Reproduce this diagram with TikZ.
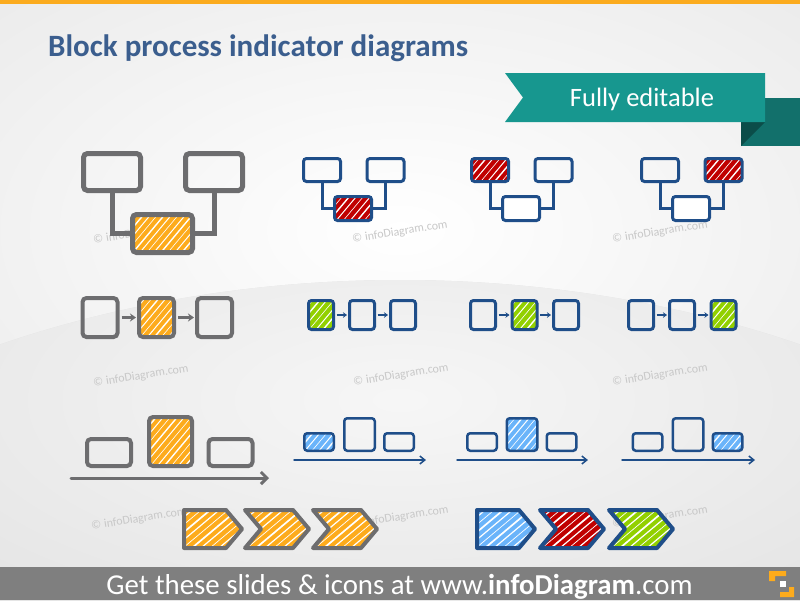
\documentclass[tikz,border=0pt]{standalone}
\usepackage{fontspec}
\usepackage{graphicx}
\setmainfont{Carlito}
\usetikzlibrary{calc,arrows.meta}
\definecolor{gstroke}{HTML}{6D6D6F}
\definecolor{bstroke}{HTML}{1F4E89}
\definecolor{orng}{HTML}{FDAB1C}
\definecolor{redf}{HTML}{C00000}
\definecolor{grnf}{HTML}{92D000}
\definecolor{bluef}{HTML}{6AB4FA}
\definecolor{titlec}{HTML}{3B5E8E}
\definecolor{tealc}{HTML}{17978F}
\definecolor{tealdark}{HTML}{12706B}
\definecolor{tealdeep}{HTML}{0B4D49}
\definecolor{footc}{HTML}{7F7F7F}
\definecolor{wmark}{HTML}{C8C8C8}
\definecolor{bgc}{HTML}{E4E4E4}
\definecolor{bgd}{HTML}{E2E2E2}
\definecolor{topc}{HTML}{FBAB1E}
\begin{document}
\begin{tikzpicture}[x=1pt,y=-1pt,
  hatch/.style={fill=#1, path picture={
     \foreach \k [evaluate=\k as \w using {0.6+0.4*mod(abs(\k),3)}] in {-16,...,16}{
       \draw[white,line width=\w pt] ($(path picture bounding box.center)+(\k*7pt-50pt,-60pt)$) -- ++(50:160pt);}}},
  hatchc/.style={fill=#1, path picture={
     \foreach \k [evaluate=\k as \w using {0.7+0.5*mod(abs(\k),3)}] in {-14,...,14}{
       \draw[white,line width=\w pt] ($(path picture bounding box.center)+(\k*9pt-40pt,-50pt)$) -- ++(40:160pt);}}},
  gbig/.style={draw=gstroke, line width=5pt, rounded corners=4pt, inner sep=0pt},
  gmid/.style={draw=gstroke, line width=4pt, rounded corners=4pt, inner sep=0pt},
  bbox/.style={draw=bstroke, line width=3pt, rounded corners=3pt, inner sep=0pt},
  bthin/.style={draw=bstroke, line width=2.5pt, rounded corners=3pt, inner sep=0pt},
  gconn/.style={draw=gstroke, line width=5pt},
  bconn/.style={draw=bstroke, line width=3pt},
  garr/.style={draw=gstroke, line width=3pt, -{Stealth[length=6pt,width=8pt]}, shorten <=2pt, shorten >=1pt},
  barr/.style={draw=bstroke, line width=2pt, -{Stealth[length=4pt,width=5.5pt]}, shorten <=1.5pt, shorten >=1pt},
  glong/.style={draw=gstroke, line width=3pt, line cap=round, -{Straight Barb[length=6pt,width=12pt]}},
  blong/.style={draw=bstroke, line width=1.5pt, line cap=round, -{Straight Barb[length=5pt,width=8pt]}},
  gchev/.style={draw=gstroke, line width=4pt, line join=round},
  bchev/.style={draw=bstroke, line width=4pt, line join=round},
  wm/.style={text=wmark, rotate=9, inner sep=0pt, font=\fontsize{12}{12}\selectfont}
]
\useasboundingbox (0,0) rectangle (800,600);
% ---------- background ----------
\begin{scope}
  \clip (0,0) rectangle (800,600);
  \fill[bgc] (0,0) rectangle (800,600);
  \shade[inner color=white, outer color=bgc] (-400,-220) rectangle (1200,680);
  \begin{scope}
    \clip (400,900) ellipse [x radius=900, y radius=620];
    \fill[bgd] (0,0) rectangle (800,600);
    \shade[inner color=white!70!bgd, outer color=bgd] (-300,100) rectangle (1100,700);
  \end{scope}
\end{scope}
\fill[topc] (0,0) rectangle (800,4);
% ---------- title and banner ----------
\node[anchor=base west, inner sep=0pt, text=titlec] (title) at (48,56)
  {\resizebox{420pt}{!}{\bfseries Block process indicator diagrams}};
\fill[tealdark] (741,98) rectangle (800,146);
\fill[tealdeep] (741,122) -- (765,122) -- (741,146) -- cycle;
\fill[tealc] (505,73) -- (765,73) -- (765,122) -- (505,122) -- (523,97.5) -- cycle;
\node[anchor=base, inner sep=0pt, text=white] (fe) at (642,106)
  {\resizebox{144pt}{!}{Fully editable}};
% ---------- watermarks ----------
\node[wm] (w1) at (141,233) {© infoDiagram.com};
\node[wm] (w2) at (400,232) {© infoDiagram.com};
\node[wm] (w3) at (660,232) {© infoDiagram.com};
\node[wm] (w4) at (141,376) {© infoDiagram.com};
\node[wm] (w5) at (401,375) {© infoDiagram.com};
\node[wm] (w6) at (660,375) {© infoDiagram.com};
\node[wm] (w7) at (139,519) {© infoDiagram.com};
\node[wm] (w8) at (401,517) {© infoDiagram.com};
\node[wm] (w9) at (660,517) {© infoDiagram.com};
% ---------- row 1 : gray hierarchy ----------
\node[gbig, minimum width=57pt, minimum height=37pt] (ga) at (112,172) {};
\node[gbig, minimum width=57pt, minimum height=37pt] (gb) at (214,172) {};
\coordinate (gcc) at (162.5,233.5);
\draw[gconn] (ga.south) |- (gcc);
\draw[gconn] (gb.south) |- (gcc);
\node[gbig, hatch=orng, minimum width=60pt, minimum height=38pt] (gc) at (gcc) {};
% ---------- row 1 : blue hierarchies ----------
\foreach \n/\o in {p/0,q/168,r/338}{
  \coordinate (\n a) at (322+\o,170);
  \coordinate (\n b) at (385.5+\o,170);
  \coordinate (\n c) at (353+\o,208.5);
}
\node[bbox, minimum width=37pt, minimum height=23pt] (h1a) at (pa) {};
\node[bbox, minimum width=37pt, minimum height=23pt] (h1b) at (pb) {};
\draw[bconn] (h1a.south) |- (pc);
\draw[bconn] (h1b.south) |- (pc);
\node[bbox, hatch=redf, minimum width=37pt, minimum height=24pt] (h1c) at (pc) {};
\node[bbox, hatch=redf, minimum width=37pt, minimum height=23pt] (h2a) at (qa) {};
\node[bbox, minimum width=37pt, minimum height=23pt] (h2b) at (qb) {};
\draw[bconn] (h2a.south) |- (qc);
\draw[bconn] (h2b.south) |- (qc);
\node[bbox, fill=white, minimum width=37pt, minimum height=24pt] (h2c) at (qc) {};
\node[bbox, minimum width=37pt, minimum height=23pt] (h3a) at (ra) {};
\node[bbox, hatch=redf, minimum width=37pt, minimum height=23pt] (h3b) at (rb) {};
\draw[bconn] (h3a.south) |- (rc);
\draw[bconn] (h3b.south) |- (rc);
\node[bbox, fill=white, minimum width=37pt, minimum height=24pt] (h3c) at (rc) {};
% ---------- row 2 : gray flow ----------
\node[gmid, minimum width=35pt, minimum height=39pt] (fa) at (100,317.5) {};
\node[gmid, hatch=orng, minimum width=35pt, minimum height=39pt] (fb) at (156.5,317.5) {};
\node[gmid, minimum width=35pt, minimum height=39pt] (fc) at (214.5,317.5) {};
\draw[garr] (fa.east) -- (fb.west);
\draw[garr] (fb.east) -- (fc.west);
% ---------- row 2 : blue flows ----------
\node[bbox, hatch=grnf, minimum width=25pt, minimum height=29pt] (k1a) at (321,315) {};
\node[bbox, minimum width=25pt, minimum height=29pt] (k1b) at (362,315) {};
\node[bbox, minimum width=25pt, minimum height=29pt] (k1c) at (403,315) {};
\draw[barr] (k1a.east) -- (k1b.west);
\draw[barr] (k1b.east) -- (k1c.west);
\node[bbox, minimum width=25pt, minimum height=29pt] (k2a) at (483,315) {};
\node[bbox, hatch=grnf, minimum width=25pt, minimum height=29pt] (k2b) at (524.5,315) {};
\node[bbox, minimum width=25pt, minimum height=29pt] (k2c) at (566,315) {};
\draw[barr] (k2a.east) -- (k2b.west);
\draw[barr] (k2b.east) -- (k2c.west);
\node[bbox, minimum width=25pt, minimum height=29pt] (k3a) at (641,315) {};
\node[bbox, minimum width=25pt, minimum height=29pt] (k3b) at (682,315) {};
\node[bbox, hatch=grnf, minimum width=25pt, minimum height=29pt] (k3c) at (723.5,315) {};
\draw[barr] (k3a.east) -- (k3b.west);
\draw[barr] (k3b.east) -- (k3c.west);
% ---------- row 3 : gray steps ----------
\node[gmid, minimum width=44pt, minimum height=27pt] (sa) at (109,452.5) {};
\node[gmid, hatch=orng, minimum width=43pt, minimum height=49pt] (sb) at (170.5,441.5) {};
\node[gmid, minimum width=44pt, minimum height=27pt] (sc) at (230.5,452.5) {};
\coordinate (sl1) at (71,478);
\coordinate (sl2) at (269,478);
\draw[glong] (sl1) -- (sl2);
% ---------- row 3 : blue steps ----------
\node[bthin, hatch=bluef, minimum width=29.5pt, minimum height=17.5pt] (t1a) at (319,442) {};
\node[bthin, minimum width=30.5pt, minimum height=32.5pt] (t1b) at (359.5,434.5) {};
\node[bthin, minimum width=29.5pt, minimum height=17.5pt] (t1c) at (399,442) {};
\coordinate (u1a) at (294,460);
\coordinate (u1b) at (426,460);
\draw[blong] (u1a) -- (u1b);
\node[bthin, minimum width=29.5pt, minimum height=17.5pt] (t2a) at (482,442) {};
\node[bthin, hatch=bluef, minimum width=30.5pt, minimum height=32.5pt] (t2b) at (522,434.5) {};
\node[bthin, minimum width=29.5pt, minimum height=17.5pt] (t2c) at (561.5,442) {};
\coordinate (u2a) at (457,460);
\coordinate (u2b) at (588,460);
\draw[blong] (u2a) -- (u2b);
\node[bthin, minimum width=29.5pt, minimum height=17.5pt] (t3a) at (647.5,442) {};
\node[bthin, minimum width=30.5pt, minimum height=32.5pt] (t3b) at (688,434.5) {};
\node[bthin, hatch=bluef, minimum width=29.5pt, minimum height=17.5pt] (t3c) at (727.5,442) {};
\coordinate (u3a) at (622,460);
\coordinate (u3b) at (755,460);
\draw[blong] (u3a) -- (u3b);
% ---------- row 4 : chevrons ----------
\draw[gchev, hatchc=orng] (184,510) -- (226,510) -- (242,529) -- (226,548) -- (184,548) -- cycle;
\draw[gchev, hatchc=orng] (245,510) -- (293,510) -- (309,529) -- (293,548) -- (245,548) -- (261,529) -- cycle;
\draw[gchev, hatchc=orng] (313,510) -- (361,510) -- (377,529) -- (361,548) -- (313,548) -- (329,529) -- cycle;
\draw[bchev, hatchc=bluef] (477,510) -- (519,510) -- (535,529) -- (519,548) -- (477,548) -- cycle;
\draw[bchev, hatchc=redf] (540,510) -- (588,510) -- (604,529) -- (588,548) -- (540,548) -- (556,529) -- cycle;
\draw[bchev, hatchc=grnf] (609,510) -- (657,510) -- (673,529) -- (657,548) -- (609,548) -- (625,529) -- cycle;
% ---------- footer ----------
\fill[footc] (0,567) rectangle (800,600);
\node[anchor=base, inner sep=0pt, text=white] (foot) at (399.5,594)
  {\resizebox{586pt}{!}{Get these slides \& icons at www.\textbf{infoDiagram}.com}};
\fill[orng] (769,571) -- (786,571) -- (786,576) -- (775,576) -- (775,581) -- (769,581) -- cycle;
\fill[white] (780,581) rectangle (786,587);
\fill[orng] (789,587) -- (794,587) -- (794,597) -- (780,597) -- (780,592) -- (789,592) -- cycle;
\end{tikzpicture}
\end{document}
